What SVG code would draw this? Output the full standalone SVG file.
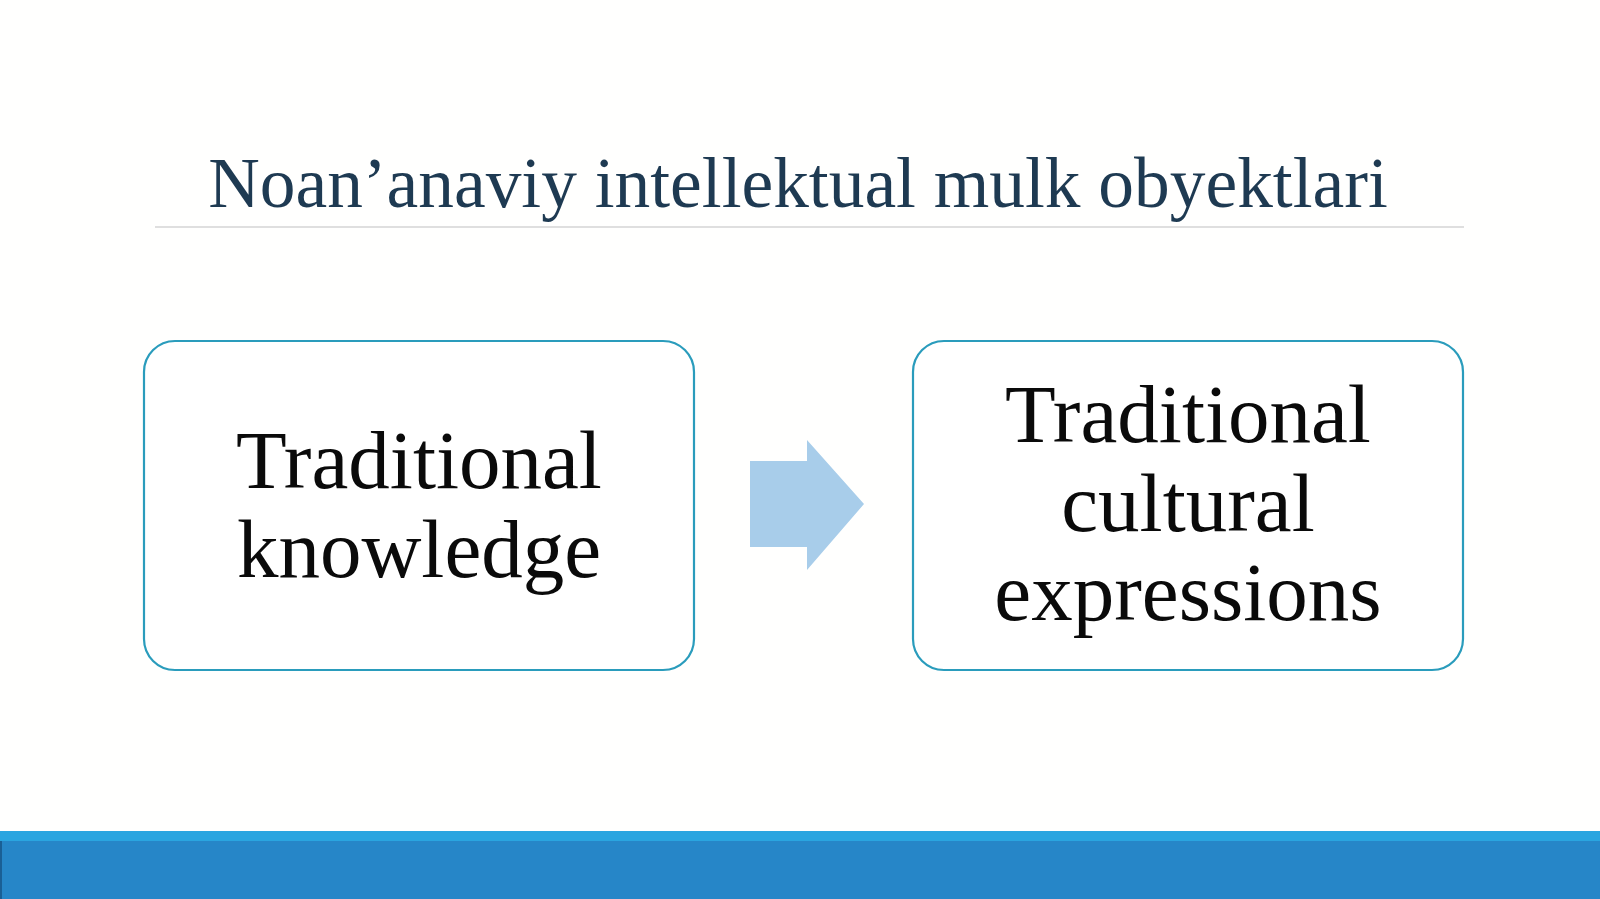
<svg xmlns="http://www.w3.org/2000/svg" width="1600" height="899" viewBox="0 0 1600 899">
  <style>
    .title { font-family: "Liberation Serif", "Times New Roman", serif; font-size: 71.4px; fill: #1e3a52; }
    .label { font-family: "Liberation Serif", "Times New Roman", serif; font-size: 83px; fill: #0a0a0a; text-anchor: middle; }
    .box { fill: #ffffff; stroke: #2a9cbc; stroke-width: 2.2; }
  </style>
  <rect x="0" y="0" width="1600" height="899" fill="#fffffe"/>
  <g id="title">
    <text class="title" x="798" y="207" text-anchor="middle">Noan’anaviy intellektual mulk obyektlari</text>
    <line x1="155" y1="227" x2="1464" y2="227" stroke="#d4d4d4" stroke-width="1.6"/>
  </g>
  <g id="node-traditional-knowledge">
    <rect class="box" x="144" y="341" width="550" height="329" rx="31" ry="31"/>
    <text class="label" x="419" y="488">Traditional</text>
    <text class="label" x="419" y="577">knowledge</text>
  </g>
  <g id="node-traditional-cultural-expressions">
    <rect class="box" x="913" y="341" width="550" height="329" rx="31" ry="31"/>
    <text class="label" x="1188" y="442">Traditional</text>
    <text class="label" x="1188" y="531">cultural</text>
    <text class="label" x="1188" y="620">expressions</text>
  </g>
  <g id="connectors">
    <path d="M750 461 L807 461 L807 440 L864 504 L807 570 L807 547 L750 547 Z" fill="#a8cdea"/>
  </g>
  <g id="footer">
    <rect x="0" y="831" width="1600" height="68" fill="#2686c8"/>
    <rect x="0" y="831" width="1600" height="10" fill="#2aa5e0"/>
    <rect x="0" y="841" width="2" height="58" fill="#1a5f95"/>
  </g>
</svg>
